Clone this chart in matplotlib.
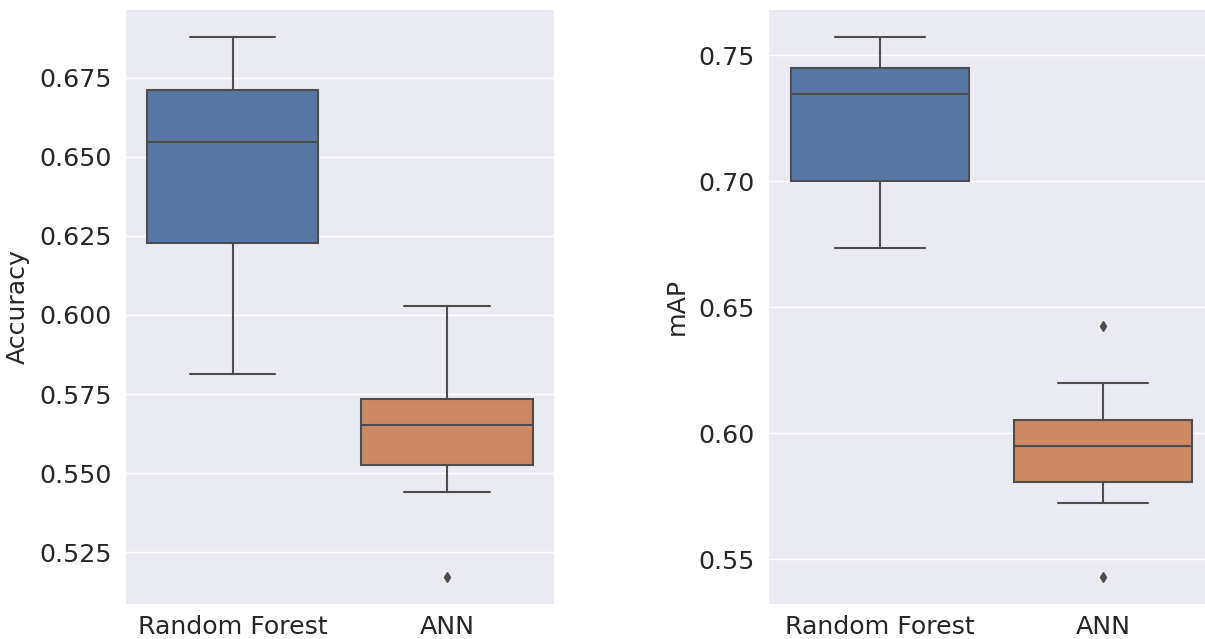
import matplotlib
matplotlib.use("Agg")
import matplotlib.pyplot as plt
import seaborn as sns

sns.set_theme(style="darkgrid")
plt.rcParams['font.family'] = ['DejaVu Sans']

models = ["Random Forest", "ANN"]
box_colors = ["#5875A4", "#CC8963"]

# Accuracy summary per model: whisker low, Q1, median, Q3, whisker high, outliers
acc_whislo = [0.5814, 0.5440]
acc_q1 = [0.6227, 0.5527]
acc_med = [0.6546, 0.5653]
acc_q3 = [0.6712, 0.5734]
acc_whishi = [0.6880, 0.6028]
acc_fliers = [[], [0.5172]]

# mAP summary per model
map_whislo = [0.6737, 0.5722]
map_q1 = [0.7000, 0.5805]
map_med = [0.7346, 0.5950]
map_q3 = [0.7451, 0.6051]
map_whishi = [0.7575, 0.6201]
map_fliers = [[], [0.6426, 0.5429]]

FS = 18.2
LINE = "#4D4D4D"
W, H = 1205, 639
fig = plt.figure(figsize=(W / 100, H / 100), dpi=100)


def make_stats(lo, q1, med, q3, hi, fl):
    return [dict(whislo=lo[i], q1=q1[i], med=med[i], q3=q3[i], whishi=hi[i],
                 fliers=fl[i], label=models[i]) for i in range(len(models))]


def draw(ax, stats, ylabel):
    art = ax.bxp(stats, positions=range(len(models)), widths=0.8,
                 patch_artist=True, showfliers=True,
                 boxprops=dict(edgecolor=LINE, linewidth=1.5),
                 medianprops=dict(color=LINE, linewidth=1.5),
                 whiskerprops=dict(color=LINE, linewidth=1.5),
                 capprops=dict(color=LINE, linewidth=1.5),
                 flierprops=dict(marker="d", markerfacecolor=LINE,
                                 markeredgecolor=LINE, markersize=5))
    for patch, c in zip(art["boxes"], box_colors):
        patch.set_facecolor(c)
    ax.set_xlim(-0.5, len(models) - 0.5)
    ax.set_xticks(range(len(models)))
    ax.set_xticklabels(models)
    ax.xaxis.grid(False)
    ax.yaxis.grid(True, color="white", linewidth=1.0)
    ax.tick_params(axis="both", labelsize=FS, length=0, colors="#262626")
    ax.tick_params(axis="y", pad=10)
    ax.tick_params(axis="x", pad=8)
    ax.set_ylabel(ylabel, fontsize=FS, color="#262626", labelpad=7)
    for s in ax.spines.values():
        s.set_visible(False)
    ax.autoscale(axis="y")
    ax.margins(y=0.05)


ax1 = fig.add_axes([125.5 / W, 1 - 604 / H, (554 - 125.5) / W, (604 - 9.5) / H])
draw(ax1, make_stats(acc_whislo, acc_q1, acc_med, acc_q3, acc_whishi, acc_fliers), "Accuracy")

ax2 = fig.add_axes([768.5 / W, 1 - 604 / H, (1214.5 - 768.5) / W, (604 - 9.5) / H])
draw(ax2, make_stats(map_whislo, map_q1, map_med, map_q3, map_whishi, map_fliers), "mAP")

fig.savefig("out.png", dpi=100)
